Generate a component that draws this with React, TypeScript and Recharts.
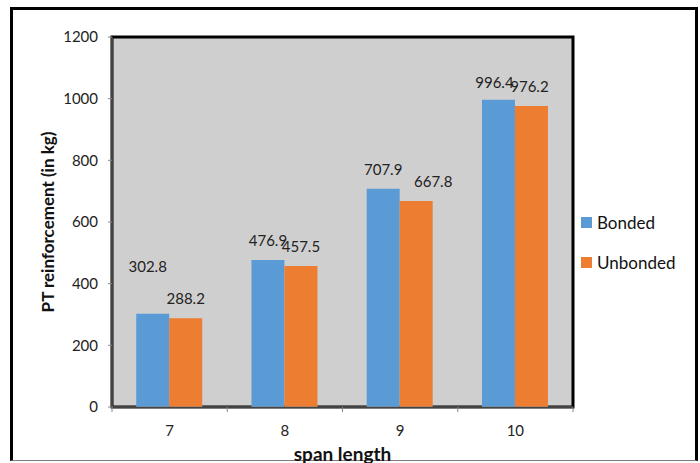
import { Bar, BarChart, CartesianGrid, LabelList, ReferenceArea, XAxis, YAxis } from "recharts";

// values (span length in m, PT steel in kg)
const spans = ["7", "8", "9", "10"];
const bonded = [302.8, 476.9, 707.9, 996.4];
const unbonded = [288.2, 457.5, 667.8, 976.2];
const yTicks = [0, 200, 400, 600, 800, 1000, 1200];

// the labels were dragged around by hand in the original
const bondedLabelShift = [
  { dx: -5, dy: -28 },
  { dx: 0, dy: 0 },
  { dx: 0, dy: 0 },
  { dx: -4, dy: 2 },
];
const unbondedLabelShift = [
  { dx: 0, dy: 0 },
  { dx: 0, dy: 0 },
  { dx: 17, dy: 0 },
  { dx: -2, dy: 0 },
];

const data = spans.map((s, i) => ({ span: s, bonded: bonded[i], unbonded: unbonded[i] }));

const FONT = "Lato, 'Open Sans', sans-serif";
const BLUE = "#5b9bd5";
const ORANGE = "#ed7d31";
const AXIS = "#868686";

function makeLabel(shift: { dx: number; dy: number }[]) {
  return (p: any) => {
    const s = shift[p.index] ?? { dx: 0, dy: 0 };
    const cx = Number(p.x) + Number(p.width) / 2 + s.dx;
    const cy = Number(p.y) - 20 + s.dy;
    return (
      <text x={cx} y={cy} textAnchor="middle" dominantBaseline="central" fontSize={15} fill="#222" fontFamily={FONT}>
        {p.value}
      </text>
    );
  };
}

function SpanTick(props: any) {
  const { x, y, payload, index } = props;
  const half = payload?.offset ?? 57.6;
  return (
    <g>
      <line x1={x - half} x2={x - half} y1={y} y2={y + 5} stroke={AXIS} />
      {index === spans.length - 1 && <line x1={x + half} x2={x + half} y1={y} y2={y + 5} stroke={AXIS} />}
      <text x={x} y={y + 23} textAnchor="middle" dominantBaseline="central" fontSize={15} fill="#222" fontFamily={FONT}>
        {payload.value}
      </text>
    </g>
  );
}

const legendItems = [
  { name: "Bonded", color: BLUE },
  { name: "Unbonded", color: ORANGE },
];

export default function App() {
  return (
    <div style={{ position: "absolute", left: 0, top: 0, width: 700, height: 463, overflow: "hidden", background: "#fff" }}>
      <div
        style={{
          position: "absolute",
          left: 10,
          top: 7,
          width: 682,
          height: 450,
          borderLeft: "3px solid #000",
          borderRight: "3px solid #000",
          borderTop: "3px solid #000",
          borderBottom: "1px solid #7f7f7f",
        }}
      />
      <div
        style={{
          position: "absolute",
          left: 0,
          width: 540,
          top: -22,
          textAlign: "center",
          fontFamily: FONT,
          fontSize: 18,
          lineHeight: "22px",
          color: "#8a8a8a",
        }}
      >
        vs span length
      </div>
      <div style={{ position: "absolute", left: 0, top: 0 }}>
        <BarChart
          width={700}
          height={463}
          data={data}
          margin={{ top: 37, right: 127, bottom: 0, left: 12 }}
          barCategoryGap="21%"
          barGap={0}
          style={{ overflow: "visible" }}
        >
          <CartesianGrid horizontal={false} vertical={false} fill="#d0cfcf" />
          <XAxis
            dataKey="span"
            stroke={AXIS}
            tickLine={false}
            tickSize={0}
            tickMargin={0}
            height={56}
            interval={0}
            tick={<SpanTick />}
            label={(p: any) => (
              <text
                x={p.viewBox.x + p.viewBox.width / 2}
                y={p.viewBox.y + 46}
                textAnchor="middle"
                dominantBaseline="central"
                fontSize={19}
                fontWeight={700}
                fill="#111"
                fontFamily={FONT}
              >
                span length
              </text>
            )}
          />
          <YAxis
            width={100}
            domain={[0, 1200]}
            ticks={yTicks}
            stroke={AXIS}
            tickSize={4}
            tickMargin={10}
            tick={{ fontSize: 15, fill: "#222", fontFamily: FONT }}
            label={(p: any) => (
              <text
                transform={`translate(${p.viewBox.x + 35}, ${p.viewBox.y + p.viewBox.height / 2}) rotate(-90)`}
                textAnchor="middle"
                dominantBaseline="central"
                fontSize={17}
                fontWeight={700}
                fill="#111"
                fontFamily={FONT}
              >
                PT reinforcement (in kg)
              </text>
            )}
          />
          <Bar dataKey="bonded" name="Bonded" fill={BLUE} isAnimationActive={false}>
            <LabelList dataKey="bonded" content={makeLabel(bondedLabelShift)} />
          </Bar>
          <Bar dataKey="unbonded" name="Unbonded" fill={ORANGE} isAnimationActive={false}>
            <LabelList dataKey="unbonded" content={makeLabel(unbondedLabelShift)} />
          </Bar>
          <ReferenceArea y1={0} y2={1200} fill="none" stroke="#000" strokeWidth={3} ifOverflow="visible" />
        </BarChart>
      </div>
      <div style={{ position: "absolute", left: 581, top: 202, fontFamily: FONT, fontSize: 17, color: "#111" }}>
        {legendItems.map((it) => (
          <div key={it.name} style={{ display: "flex", alignItems: "center", height: 40 }}>
            <span style={{ width: 11, height: 11, background: it.color, marginRight: 5 }} />
            {it.name}
          </div>
        ))}
      </div>
    </div>
  );
}
